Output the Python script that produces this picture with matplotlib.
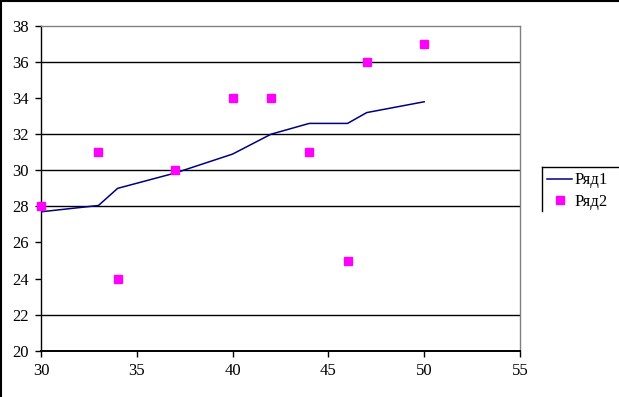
import matplotlib
matplotlib.use("Agg")
import matplotlib.pyplot as plt
from matplotlib.lines import Line2D

# Ряд1 - trend line
line_x = [30, 33, 34, 37, 40, 42, 44, 46, 47, 50]
line_y = [27.7, 28.05, 29.0, 29.85, 30.9, 32.0, 32.6, 32.6, 33.2, 33.8]

# Ряд2 - scatter points
point_x = [30, 33, 34, 37, 40, 42, 44, 46, 47, 50]
point_y = [28, 31, 24, 30, 34, 34, 31, 25, 36, 37]

series_names = ["Ряд1", "Ряд2"]
x_ticks = [30, 35, 40, 45, 50, 55]
y_ticks = [20, 22, 24, 26, 28, 30, 32, 34, 36, 38]
# only these gridlines survive in the reference picture
grid_levels = [22, 28, 30, 32, 36]

plt.rcParams["font.family"] = ["Liberation Serif", "DejaVu Serif"]
plt.rcParams["font.size"] = 12

W, H = 619, 397
fig = plt.figure(figsize=(W / 100, H / 100), dpi=100)
ax = fig.add_axes([41 / W, (H - 350.7) / H, 479 / W, 324.7 / H])

for level in grid_levels:
    ax.axhline(level, color="black", lw=1.0, zorder=0)

ax.plot(line_x, line_y, color="#000080", lw=1.1, label=series_names[0])
ax.plot(point_x, point_y, "s", color="#ff00ff", ms=5.5, label=series_names[1],
        clip_on=False, zorder=3)

ax.set_xlim(30, 55)
ax.set_ylim(20, 38)
ax.set_xticks(x_ticks)
ax.set_yticks(y_ticks)

for side in ["top", "right"]:
    ax.spines[side].set_color("#808080")
    ax.spines[side].set_linewidth(1.0)
ax.spines["left"].set_color("black")
ax.spines["left"].set_linewidth(1.0)
ax.spines["bottom"].set_color("black")
ax.spines["bottom"].set_linewidth(1.4)
ax.tick_params(direction="out", length=4, width=1, color="black", pad=5)

fig.legend(loc="upper left", bbox_to_anchor=(534 / W, 1 - 159 / H),
           frameon=False, handlelength=1.5, handletextpad=0.15,
           borderpad=0.3, labelspacing=0.35, fontsize=12)

# legend frame (only top and left edges show in the reference)
fig.add_artist(Line2D([541.5 / W, 1.0], [1 - 167 / H, 1 - 167 / H],
                      transform=fig.transFigure, color="black", lw=1))
fig.add_artist(Line2D([541.5 / W, 541.5 / W], [1 - 167 / H, 1 - 211 / H],
                      transform=fig.transFigure, color="black", lw=1))

# outer border, top and left
fig.add_artist(Line2D([0, 1], [1 - 1 / H, 1 - 1 / H],
                      transform=fig.transFigure, color="black", lw=1.5))
fig.add_artist(Line2D([1 / W, 1 / W], [0, 1],
                      transform=fig.transFigure, color="black", lw=1.5))

fig.savefig("out.png", dpi=100)
